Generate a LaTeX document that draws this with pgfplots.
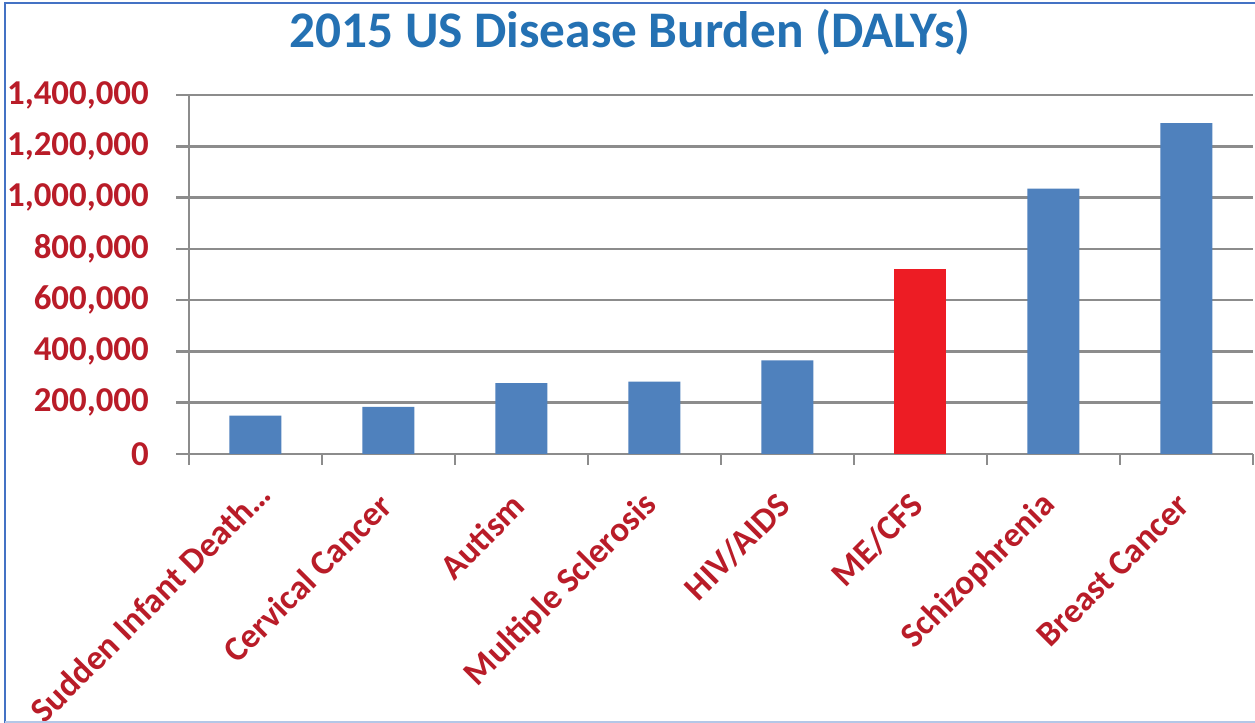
\documentclass[border=0pt]{standalone}
\usepackage{pgfplots}
\pgfplotsset{compat=1.18}
\usepackage{fontspec}
\setmainfont{Carlito}
\definecolor{barblue}{RGB}{79,129,189}
\definecolor{barred}{RGB}{237,28,36}
\definecolor{lblred}{RGB}{185,28,40}
\definecolor{ttlblue}{RGB}{36,113,179}
\definecolor{gridgray}{RGB}{140,140,140}
\definecolor{frameblue}{RGB}{68,114,196}
\begin{document}
\begin{tikzpicture}[x=1bp,y=1bp]
\useasboundingbox (0,0) rectangle (1255,723);
\fill[white] (0,0) rectangle (1255,723);
\node[text=ttlblue, font=\fontsize{51.5}{60}\selectfont\bfseries] at (630,691) {2015 US Disease Burden (DALYs)};
\begin{axis}[
  at={(189bp,269bp)}, anchor=south west,
  scale only axis, width=1064bp, height=359bp,
  xmin=-0.5, xmax=7.5, ymin=0, ymax=1400000,
  axis x line*=bottom, axis y line*=left,
  axis line style={gridgray, line width=2.5bp},
  ybar, bar width=52bp, bar shift=0pt,
  ytick={0,200000,400000,600000,800000,1000000,1200000,1400000},
  scaled y ticks=false,
  /pgf/number format/fixed,
  /pgf/number format/1000 sep={,},
  /pgf/number format/assume math mode=true,
  ymajorgrids, grid style={gridgray, line width=2.5bp},
  tick align=outside, major tick length=13bp, minor tick length=11bp,
  tick style={gridgray, line width=2.5bp},
  xtick={0,1,2,3,4,5,6,7},
  xticklabels={{Sudden Infant Death\textellipsis\kern-17bp\null},{Cervical Cancer},{Autism},{Multiple Sclerosis},{HIV/AIDS},{ME/CFS},{Schizophrenia},{Breast Cancer}},
  minor xtick={-0.5,0.5,1.5,2.5,3.5,4.5,5.5,6.5,7.5},
  major x tick style={draw=none},
  ticklabel style={text=lblred, font=\fontsize{35}{42}\selectfont\bfseries},
  yticklabel style={anchor=east, inner sep=0pt, xshift=-27bp},
  xticklabel style={yshift=-33bp, xshift=-3bp, rotate=45, anchor=east, inner sep=0pt},
]
\addplot[fill=barblue, draw=none] coordinates {(0,150000) (1,184000) (2,276000) (3,282000) (4,365000) (6,1035000) (7,1290000)};
\addplot[fill=barred, draw=none] coordinates {(5,723000)};
\end{axis}
\draw[frameblue, line width=2.5bp] (5,0) -- (5,720) -- (1255,720);
\draw[frameblue!40, line width=1.5bp] (5,1) -- (1255,1);
\end{tikzpicture}
\end{document}
